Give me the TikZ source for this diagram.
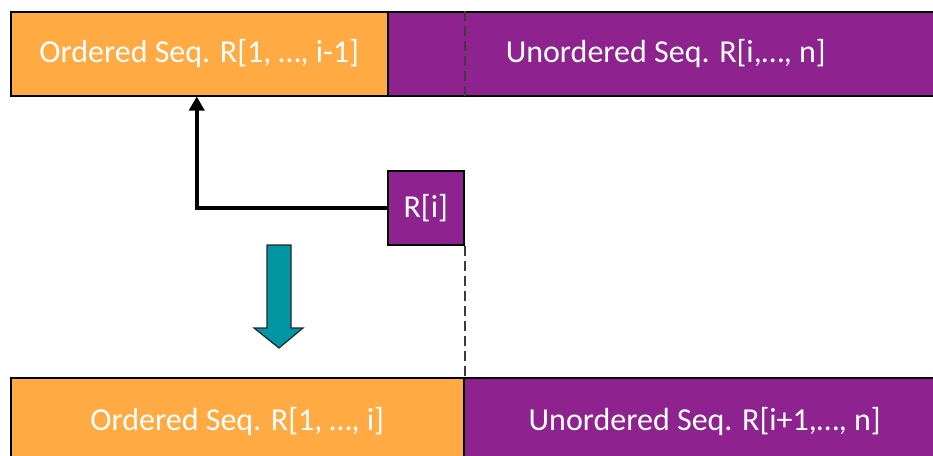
\documentclass[tikz,border=0pt]{standalone}
\usepackage{fontspec}
\setmainfont{Carlito}
\usetikzlibrary{arrows.meta}
\definecolor{seqorange}{RGB}{255,170,66}
\definecolor{seqpurple}{RGB}{142,35,143}
\definecolor{seqteal}{RGB}{0,150,162}
\definecolor{dashgray}{RGB}{60,60,60}
\begin{document}
\begin{tikzpicture}[x=1pt,y=-1pt,
  seqbox/.style={draw=black, line width=1.5pt, inner sep=0pt, anchor=north west,
    text=white, font=\fontsize{32}{38}\selectfont},
  ordbox/.style={seqbox, fill=seqorange},
  unordbox/.style={seqbox, fill=seqpurple},
  boundary/.style={draw=dashgray, line width=2pt, dash pattern=on 10pt off 5pt},
  moveline/.style={line width=4pt, -{Triangle[width=15pt,length=14pt]}},
  stepdown/.style={draw=black!85, line width=1.2pt, fill=seqteal, line join=miter}]
\useasboundingbox (0,0) rectangle (933,455);
\clip (0,0) rectangle (933,455);

% before the step
\node[ordbox, minimum width=377pt, minimum height=84pt] (ord1) at (10,11) {Ordered Seq. R[1, …, i-1]};
\node[unordbox, minimum width=556pt, minimum height=84pt] (unord1) at (387,11) {Unordered Seq. R[i,…, n]};

% element taken out
\node[unordbox, minimum width=76pt, minimum height=74pt] (ri) at (387,170) {R[i]};

% boundary between the two parts
\draw[boundary] (ri.north east |- unord1.north) -- (ri.north east |- unord1.south);

% insertion of R[i] into the ordered part
\draw[moveline] (ri.west) -| ([xshift=-2.5pt]ord1.south);

% after the step
\node[ordbox, minimum width=453pt, minimum height=88pt] (ord2) at (10,377) {Ordered Seq. R[1, …, i]};
\node[unordbox, minimum width=482pt, minimum height=88pt] (unord2) at (463,377) {Unordered Seq. R[i+1,…, n]};

\draw[boundary] (ri.south east) -- (ri.south east |- ord2.north);

% downward block arrow
\draw[stepdown] (267,245) -- (291,245) -- (291,328) -- (303,328) -- (279,348)
  -- (254,328) -- (267,328) -- cycle;
\end{tikzpicture}
\end{document}
